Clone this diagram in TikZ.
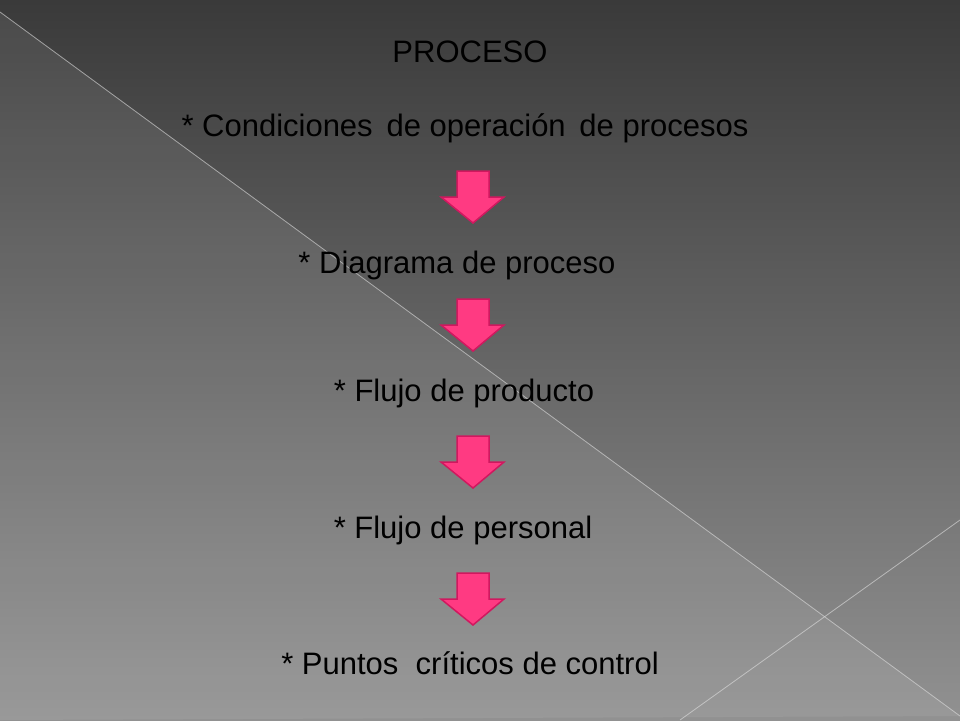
\documentclass[tikz,border=0pt]{standalone}
\usepackage{fontspec}
\setmainfont{Liberation Sans}
\begin{document}
\begin{tikzpicture}[x=1pt,y=-1pt,
  lbl/.style={font=\fontsize{31}{37}\selectfont, text=black, inner sep=0pt},
  darrow/.style={fill=arrowpink, draw=arrowedge, line width=1.5pt, line join=miter}]
\definecolor{arrowpink}{HTML}{FF3A82}
\definecolor{arrowedge}{HTML}{D0185F}
\useasboundingbox (0,0) rectangle (960,720);
\shade[top color={rgb,255:red,58;green,58;blue,58}, bottom color={rgb,255:red,145;green,145;blue,145}] (0,0) rectangle (960,720);
\fill[white,opacity=0.08] (0,12) -- (960,716) -- (0,720) -- cycle;
\draw[white!75!gray, opacity=0.6, line width=0.8pt] (0,12) -- (960,716);
\draw[white!75!gray, opacity=0.6, line width=0.8pt] (680,720) -- (960,520);
\node[lbl] (t0) at (470,52) {PROCESO};
\node[lbl] (t1) at (465,128) {* Condiciones\, de operación\, de procesos};
\node[lbl] (t2) at (457,265) {* Diagrama de proceso};
\node[lbl] (t3) at (464,393) {* Flujo de producto};
\node[lbl] (t4) at (463,530) {* Flujo de personal};
\node[lbl] (t5) at (470,663) {* Puntos\ \ críticos de control};
\foreach \y/\n in {171/a1,299/a2,436/a3,573/a4}{
  \draw[darrow] (457,\y) -- (489,\y) -- (489,\y+26) -- (504,\y+26) -- (473,\y+52) -- (441,\y+26) -- (457,\y+26) -- cycle;
}
\end{tikzpicture}
\end{document}
